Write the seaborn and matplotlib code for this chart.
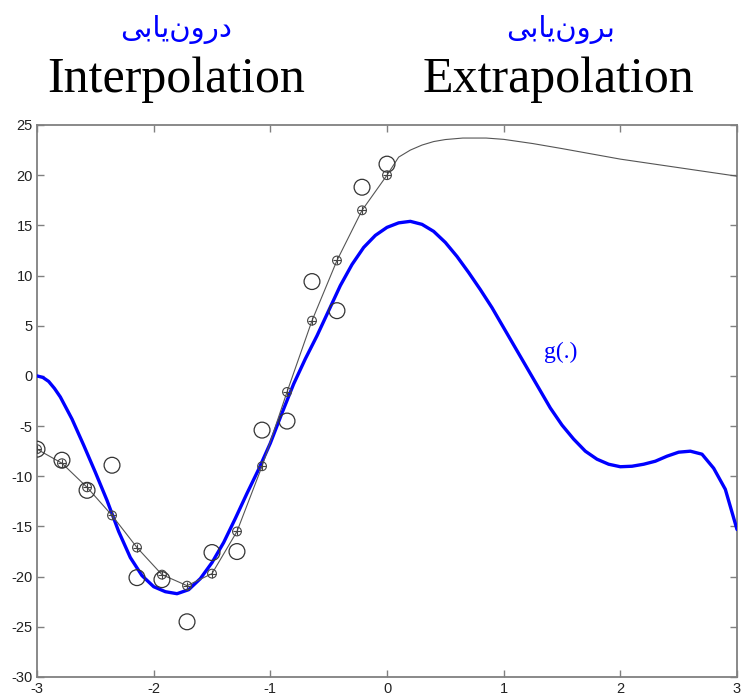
import numpy as np
import pandas as pd
import matplotlib
matplotlib.use("Agg")
import matplotlib.pyplot as plt
import seaborn as sns

# ---- data ----
# interpolation nodes (circle-plus markers on the gray curve)
node_x = [-3.0, -2.786, -2.571, -2.357, -2.143, -1.929, -1.714, -1.5,
          -1.286, -1.071, -0.857, -0.643, -0.429, -0.214, 0.0]
node_y = [-7.3, -8.7, -11.1, -13.9, -17.1, -19.8, -20.9, -19.7,
          -15.5, -9.0, -1.6, 5.5, 11.5, 16.5, 20.0]
# noisy samples (open circles)
sample_y = [-7.3, -8.4, -11.4, -8.9, -20.1, -20.3, -24.5, -17.6,
            -17.5, -5.4, -4.5, 9.4, 6.5, 18.8, 21.1]
# gray curve continued beyond the data (extrapolation)
extra_x = [0.1, 0.2, 0.3, 0.4, 0.5, 0.65, 0.85, 1.0, 1.25, 1.5, 2.0, 2.5, 3.0]
extra_y = [21.8, 22.5, 23.0, 23.35, 23.55, 23.7, 23.7, 23.57, 23.15, 22.65, 21.6, 20.75, 19.9]
# true function g(.)
g_x = [-3.0, -2.95, -2.9, -2.85, -2.8, -2.7, -2.6, -2.5, -2.4, -2.3, -2.2, -2.1, -2.0,
       -1.9, -1.8, -1.7, -1.6, -1.5, -1.4, -1.3, -1.2, -1.1, -1.0,
       -0.9, -0.8, -0.7, -0.6, -0.5, -0.4, -0.3, -0.2, -0.1, 0.0,
       0.1, 0.2, 0.3, 0.4, 0.5, 0.6, 0.7, 0.8, 0.9, 1.0,
       1.1, 1.2, 1.3, 1.4, 1.5, 1.6, 1.7, 1.8, 1.9, 2.0,
       2.1, 2.2, 2.3, 2.4, 2.5, 2.6, 2.7, 2.8, 2.9, 3.0]
g_y = [0.0, -0.15, -0.55, -1.25, -2.1, -4.3, -6.9, -9.6, -12.4, -15.5, -18.1, -19.9, -21.0,
       -21.5, -21.7, -21.3, -20.2, -18.6, -16.6, -14.2, -11.7, -9.3, -6.7,
       -3.7, -0.8, 1.7, 4.0, 6.5, 9.0, 11.1, 12.8, 14.0, 14.8,
       15.25, 15.4, 15.1, 14.4, 13.3, 11.9, 10.3, 8.6, 6.8, 4.8,
       2.8, 0.8, -1.2, -3.2, -4.9, -6.3, -7.5, -8.3, -8.8, -9.05,
       -9.0, -8.8, -8.5, -8.0, -7.6, -7.5, -7.8, -9.2, -11.3, -15.3]
x_ticks = [-3, -2, -1, 0, 1, 2, 3]
y_ticks = [-30, -25, -20, -15, -10, -5, 0, 5, 10, 15, 20, 25]

title_left_en = "Interpolation"
title_right_en = "Extrapolation"
title_left_fa = "درون‌یابی"
title_right_fa = "برون‌یابی"
curve_label = "g(.)"

# Arabic presentation forms in visual order (matplotlib does no shaping)
def shape_fa(word):
    table = {
        "درون‌یابی": "\uFEF0\uFE91\uFE8E\uFEF3\uFEE5\uFEED\uFEAD\uFEA9",
        "برون‌یابی": "\uFEF0\uFE91\uFE8E\uFEF3\uFEE5\uFEED\uFEAE\uFE91",
    }
    return table.get(word, word)

# ---- figure ----
sns.set_theme(style="white")
plt.rcParams["font.family"] = ["Liberation Sans", "DejaVu Sans"]

fig = plt.figure(figsize=(7.41, 6.97), dpi=100)
ax = fig.add_axes([37 / 741, 20 / 697, 700 / 741, 552 / 697])

gray_df = pd.DataFrame({"x": node_x + extra_x, "y": node_y + extra_y})
g_df = pd.DataFrame({"x": g_x, "y": g_y})
nodes_df = pd.DataFrame({"x": node_x, "y": node_y})
samp_df = pd.DataFrame({"x": node_x, "y": sample_y})

sns.lineplot(data=g_df, x="x", y="y", ax=ax, color="#0000FF", lw=2.4,
             sort=False, estimator=None, zorder=3)
sns.lineplot(data=gray_df, x="x", y="y", ax=ax, color="#555555", lw=0.8,
             sort=False, estimator=None, zorder=4)
sns.scatterplot(data=nodes_df, x="x", y="y", ax=ax, marker="o", s=40,
                facecolor="none", edgecolor="#444444", linewidth=0.8, zorder=5)
sns.scatterplot(data=nodes_df, x="x", y="y", ax=ax, marker="+", s=40,
                color="#444444", linewidth=0.8, zorder=5)
sns.scatterplot(data=samp_df, x="x", y="y", ax=ax, marker="o", s=130,
                facecolor="none", edgecolor="#333333", linewidth=0.9, zorder=6)

ax.set_xlim(-3, 3)
ax.set_ylim(-30, 25)
ax.set_xticks(x_ticks)
ax.set_yticks(y_ticks)
ax.set_xticklabels([str(t) for t in x_ticks])
ax.set_yticklabels([str(t) for t in y_ticks])
ax.set_xlabel("")
ax.set_ylabel("")
for sp in ax.spines.values():
    sp.set_visible(True)
    sp.set_color("#808080")
    sp.set_linewidth(1.3)
ax.tick_params(direction="in", length=5, width=1.0, color="#808080",
               top=True, right=True, bottom=True, left=True,
               labelsize=10.5, labelcolor="#222222")
ax.tick_params(axis="x", pad=3.5)
ax.tick_params(axis="y", pad=3)

ax.text(1.49, 2.3, curve_label, color="#0000FF", fontsize=17,
        family=["Liberation Serif"], ha="center", va="center")

fig.text(176 / 741, 1 - 92 / 697, title_left_en, family=["Liberation Serif"],
         fontsize=36, ha="center", va="baseline", color="black")
fig.text(558 / 741, 1 - 92 / 697, title_right_en, family=["Liberation Serif"],
         fontsize=36, ha="center", va="baseline", color="black")
fig.text(176 / 741, 1 - 30 / 697, shape_fa(title_left_fa), family=["DejaVu Sans"],
         fontsize=21, ha="center", va="center", color="#0000FF")
fig.text(561 / 741, 1 - 30 / 697, shape_fa(title_right_fa), family=["DejaVu Sans"],
         fontsize=21, ha="center", va="center", color="#0000FF")

fig.savefig("out.png", dpi=100)
